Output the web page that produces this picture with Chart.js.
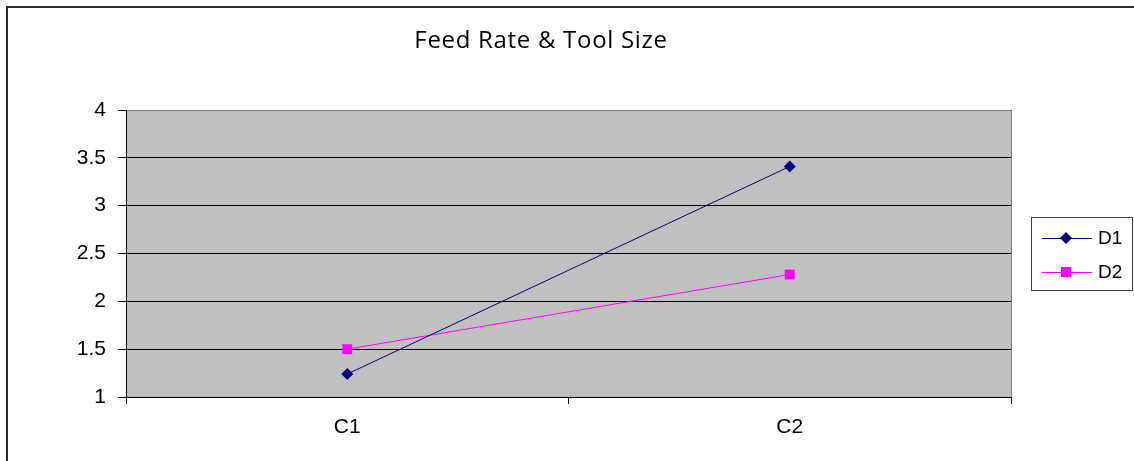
<!DOCTYPE html>
<html>
<head>
<meta charset="utf-8">
<script src="https://cdn.jsdelivr.net/npm/chart.js"></script>
<style>
  body { margin: 0; background: #fff; }
  canvas { display: block; }
</style>
</head>
<body>
<canvas id="myChart" width="1134" height="461"></canvas>
<script>
const categories = ['C1', 'C2'];
const d1Values = [1.24, 3.41];
const d2Values = [1.5, 2.28];
const seriesNames = ['D1', 'D2'];
const chartTitle = 'Feed Rate & Tool Size';

// fond gris de la zone de tracé + cadre extérieur
const plotBackground = {
    id: 'plotBackground',
    beforeDraw(chart) {
        const c = chart.ctx;
        const a = chart.chartArea;
        c.save();
        c.fillStyle = '#fff';
        c.fillRect(0, 0, chart.width, chart.height);
        c.strokeStyle = '#2a2a2a';
        c.lineWidth = 2;
        c.strokeRect(7, 7, chart.width + 10, chart.height + 10);
        c.lineWidth = 1;
        c.fillStyle = '#C0C0C0';
        c.fillRect(a.left, a.top, a.right - a.left, a.bottom - a.top);
        c.strokeStyle = '#808080';
        c.strokeRect(a.left + 0.5, a.top + 0.5, a.right - a.left, a.bottom - a.top);
        c.restore();
    }
};

// titre + légende à droite, dessinés à la main
const boxLegend = {
    id: 'boxLegend',
    afterDraw(chart) {
        const c = chart.ctx;
        c.save();
        c.fillStyle = '#000';
        c.font = '24px "Open Sans", Arial, sans-serif';
        c.textAlign = 'center';
        c.textBaseline = 'alphabetic';
        c.letterSpacing = '0.7px';
        c.fillText(chartTitle, 541, 48);
        c.letterSpacing = '0px';
        c.textAlign = 'left';

        c.strokeStyle = '#404040';
        c.lineWidth = 1;
        c.strokeRect(1031.5, 217.5, 101, 73);
        const rows = [238, 272];
        chart.data.datasets.forEach(function (ds, i) {
            const y = rows[i];
            c.strokeStyle = ds.borderColor;
            c.beginPath();
            c.moveTo(1042, y + 0.5);
            c.lineTo(1092, y + 0.5);
            c.stroke();
            c.fillStyle = ds.backgroundColor;
            c.beginPath();
            if (ds.pointStyle === 'rectRot') {
                const r = ds.pointRadius;
                c.moveTo(1066 - r, y); c.lineTo(1066, y - r);
                c.lineTo(1066 + r, y); c.lineTo(1066, y + r);
                c.closePath();
            } else {
                c.rect(1061, y - 5, 10, 10);
            }
            c.fill();
            c.fillStyle = '#000';
            c.font = '19px Arial, "Liberation Sans", sans-serif';
            c.textBaseline = 'middle';
            c.fillText(ds.label, 1098, y + 1);
        });
        c.restore();
    }
};

const ctx = document.getElementById('myChart').getContext('2d');
const myChart = new Chart(ctx, {
    type: 'line',
    data: {
        labels: categories,
        datasets: [{
            label: seriesNames[0],
            data: d1Values,
            borderColor: '#000080',
            backgroundColor: '#000080',
            borderWidth: 1,
            pointStyle: 'rectRot',
            pointRadius: 6,
            pointBorderWidth: 0
        }, {
            label: seriesNames[1],
            data: d2Values,
            borderColor: '#FF00FF',
            backgroundColor: '#FF00FF',
            borderWidth: 1,
            pointStyle: 'rect',
            pointRadius: 7,
            pointBorderWidth: 0
        }]
    },
    options: {
        responsive: false,
        animation: false,
        layout: { padding: { left: 0, right: 123, bottom: 0, top: 110 } },
        plugins: {
            legend: { display: false },
            tooltip: { enabled: false },
            title: { display: false }
        },
        scales: {
            x: {
                offset: true,
                grid: {
                    offset: true,
                    drawOnChartArea: false,
                    drawTicks: true,
                    tickLength: 7,
                    tickColor: '#000'
                },
                border: { color: '#000' },
                ticks: {
                    color: '#000',
                    padding: 11,
                    font: { family: 'Arial, "Liberation Sans", sans-serif', size: 21 }
                },
                afterFit: function (scale) { scale.height = 64; }
            },
            y: {
                min: 1,
                max: 4,
                grid: {
                    color: function (c) { return c.tick && c.tick.value === 4 ? '#808080' : '#000'; },
                    tickColor: '#000',
                    tickLength: 8
                },
                border: { color: '#000' },
                ticks: {
                    stepSize: 0.5,
                    color: '#000',
                    padding: 12,
                    font: { family: 'Arial, "Liberation Sans", sans-serif', size: 21 },
                    callback: function (v) { return String(v); }
                },
                afterFit: function (scale) { scale.width = 126; }
            }
        }
    },
    plugins: [plotBackground, boxLegend]
});
</script>
</body>
</html>
